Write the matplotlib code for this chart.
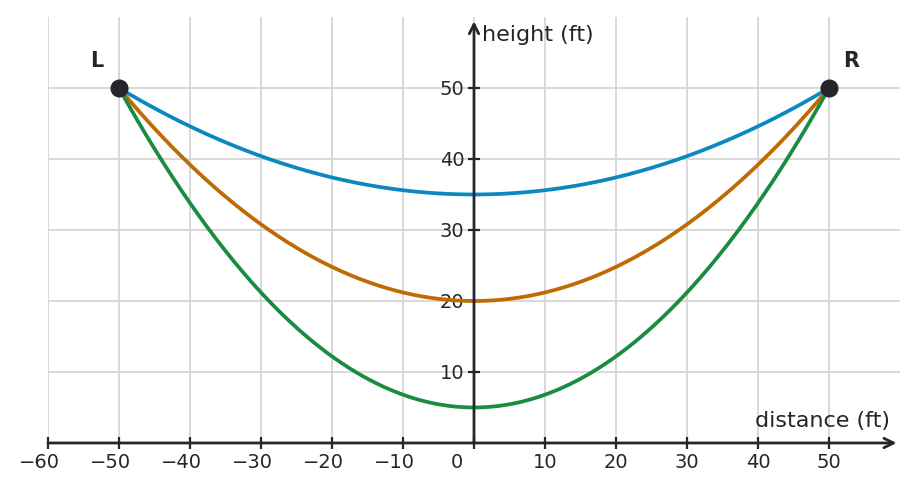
import numpy as np
import matplotlib
matplotlib.use("Agg")
import matplotlib.pyplot as plt
from matplotlib.transforms import ScaledTranslation

# cable anchor points and the low point of each sag curve
anchor_x = [-50, 50]
anchor_y = [50, 50]
anchor_names = ["L", "R"]
sag_lows = [35, 20, 5]
sag_colours = ["#0a88bf", "#bf6a02", "#198c42"]

xticks = [-60, -50, -40, -30, -20, -10, 0, 10, 20, 30, 40, 50]
yticks = [10, 20, 30, 40, 50]

ink = "#24262b"
plt.rcParams["font.family"] = "DejaVu Sans"

fig = plt.figure(figsize=(9.17, 4.91), dpi=100)
ax = fig.add_axes([0.0523, 0.0978, 0.9292, 0.8676])
ax.set_xlim(-60, 60)
ax.set_ylim(0, 60)

# parabolic sag through both anchors
x = np.linspace(anchor_x[0], anchor_x[1], 400)
for low, col in zip(sag_lows, sag_colours):
    y = low + (anchor_y[0] - low) * (x / anchor_x[1]) ** 2
    ax.plot(x, y, color=col, lw=2.7, solid_capstyle="round", zorder=3)

ax.plot(anchor_x, anchor_y, "o", color=ink, ms=12, zorder=5)
ax.text(-53.1, 53.8, anchor_names[0], fontsize=15, fontweight="bold", color=ink,
        ha="center", va="center")
ax.text(53.1, 53.8, anchor_names[1], fontsize=15, fontweight="bold", color=ink,
        ha="center", va="center")

# axes through the origin
for s in ["top", "right", "left", "bottom"]:
    ax.spines[s].set_visible(False)
ax.spines["left"].set_position(("data", 0))
ax.spines["bottom"].set_position(("data", 0))

ax.annotate("", xy=(59.5, 0), xytext=(-60, 0),
            arrowprops=dict(arrowstyle="->", lw=2, color=ink, mutation_scale=17,
                            shrinkA=0, shrinkB=0), zorder=4)
ax.annotate("", xy=(0, 59.4), xytext=(0, 0),
            arrowprops=dict(arrowstyle="->", lw=2, color=ink, mutation_scale=17,
                            shrinkA=0, shrinkB=0), zorder=4)

ax.set_xticks(xticks)
ax.set_yticks(yticks)
ax.tick_params(axis="both", direction="inout", length=8, width=1.6, color=ink,
               labelsize=14, labelcolor=ink)
ax.tick_params(axis="x", pad=3)
ax.tick_params(axis="y", pad=3)
ax.set_xticklabels([str(t).replace("-", "\u2212") for t in xticks])

# centre the digits on the tick (minus hangs left), nudge 0 off the axis
fig.canvas.draw()
for lab in ax.get_xticklabels():
    txt = lab.get_text()
    if txt == "0":
        dx = -0.17
    elif txt.startswith("\u2212"):
        dx = -0.085
    else:
        continue
    lab.set_transform(lab.get_transform() + ScaledTranslation(dx, 0, fig.dpi_scale_trans))

ax.grid(True, color="#d5d5d5", lw=1.3)
ax.set_axisbelow(True)

ax.text(58.6, 3.1, "distance (ft)", fontsize=16, color=ink, ha="right", va="center")
ax.text(1.1, 57.5, "height (ft)", fontsize=16, color=ink, ha="left", va="center")

fig.savefig("out.png", dpi=100)
